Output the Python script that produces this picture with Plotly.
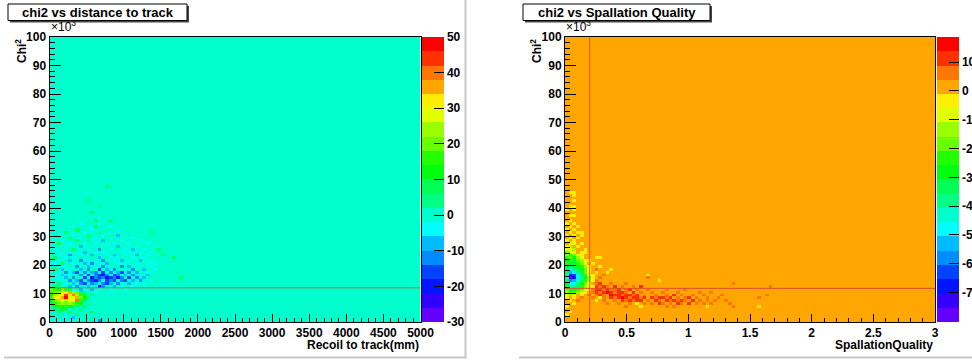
import colorsys
import numpy as np
import plotly.graph_objects as go

W, H = 972, 363

# ======================= DATA =======================
ytick_vals = [0, 10000, 20000, 30000, 40000, 50000, 60000, 70000, 80000, 90000, 100000]
ytick_text = ["0", "10", "20", "30", "40", "50", "60", "70", "80", "90", "100"]
y_range = [0, 100000]
n_bins = 100

# ---- left: chi2 vs distance to track ----
left_title = "chi2 vs distance to track"
left_xtitle = "Recoil to track(mm)"
left_xrange = [0, 5000]
left_zrange = [-30, 50]
left_ztick = [-30, -20, -10, 0, 10, 20, 30, 40, 50]
left_ztick_text = ["-30", "-20", "-10", "0", "10", "20", "30", "40", "50"]
left_xtick = [0, 500, 1000, 1500, 2000, 2500, 3000, 3500, 4000, 4500, 5000]
left_xtick_text = ["0", "500", "1000", "1500", "2000", "2500", "3000", "3500", "4000", "4500", "5000"]
left_cut_y = 12000
# colour-level codes -> bin content
left_levels = {"V": -28, "U": -24, "B": -20, "b": -16, "a": -12, "l": -8, "c": -4,
               "s": 4, "g": 8, "G": 12, "h": 16, "i": 20, "j": 24, "y": 28,
               "Y": 32, "o": 36, "O": 40, "r": 44, "R": 48}
# y-bin -> "xbin+code" entries (non-empty bins)
left_cells = {
    47: "15g",
    42: "10g",
    40: "13s",
    38: "11g",
    36: "13c",
    35: "12g 16g",
    34: "8c 13c",
    33: "6c 12g 16c",
    32: "3c 7g 11c 18c",
    31: "4g 9c 13s 27g",
    30: "2c 6c 10g 14c 18l",
    29: "5g 8c 12c 16c 20c 22c",
    28: "3c 7g 10s 14l 19c 24c",
    27: "2g 5c 9c 12c 17c 21c 26c",
    26: "4c 8l 11c 15c 18l 23c 28c",
    25: "1c 6g 10c 13a 16c 20c 22l 25c 29g",
    24: "3c 7c 9l 12c 14c 19c 21c 24c 27c",
    23: "2c 5a 8c 11l 15c 17l 20c 23l 26c 30g",
    22: "1g 4c 6c 9c 13l 16c 18c 22c 25c 33g",
    21: "2c 5l 8a 10c 12c 14a 17c 19l 21c 24l 27c",
    20: "1c 3g 6c 9l 11a 13c 15l 18c 20c 23c 26c 28c",
    19: "2c 4c 7a 10l 12c 14a 16c 19a 21l 24c 27c",
    18: "1g 3l 5c 8l 10a 13b 15l 17a 20c 22a 25l 28c",
    17: "2c 4a 6l 7b 9a 11l 12a 14b 16a 18l 19b 21a 23l 26c",
    16: "1c 3l 5c 8a 10b 12a 13b 14B 15a 17b 18a 20l 22a 24c 26l",
    15: "2c 4l 6a 9b 11B 12a 13b 14a 15B 16b 17a 18B 19a 21b 23a 25l 35g",
    14: "3c 5a 7l 8b 10a 11b 12B 13a 15b 16a 17b 19a 20b 22l 24a 27c",
    13: "2g 4c 6l 8a 9b 11a 12l 14a 15b 16l 18a 21l 23c 25c 30c",
    12: "1g 2s 3c 5l 7a 10l 13U 14a 17l 19c 22c",
    11: "0i 1h 2G 3j 4h 5g 6c 8l 9c 11l 13c 16c 20c",
    10: "0h 1i 2j 3y 4Y 5o 6j 7i 8g 9s 12c",
    9: "0G 1j 2Y 3y 4r 5Y 6O 7j 8h 9g 11s",
    8: "0h 1y 2Y 3o 4R 5y 6Y 7o 8i 9G 10s",
    7: "0G 1i 2j 3y 4j 5Y 6y 7O 8h 9g",
    6: "0g 1h 2i 3j 4i 5j 6i 7h 8G 10s",
    5: "0s 1G 2h 3G 4h 5G 6g 7s 9g",
    4: "1g 2s 3G 4g 6s 8s",
    3: "2s 5g 11g",
    2: "3s 7s",
    1: "4c 6l",
    0: "2c 5c 13a",
}

# ---- right: chi2 vs Spallation Quality ----
right_title = "chi2 vs Spallation Quality"
right_xtitle = "SpallationQuality"
right_xrange = [0, 3]
right_zrange = [-80.2, 18.7]
right_ztick = [10, 0, -10, -20, -30, -40, -50, -60, -70]
right_ztick_text = ["10", "0", "-10", "-20", "-30", "-40", "-50", "-60", "-70"]
right_xtick = [0, 0.5, 1, 1.5, 2, 2.5, 3]
right_xtick_text = ["0", "0.5", "1", "1.5", "2", "2.5", "3"]
right_cut_y = 11800
right_cut_x = 0.2
right_levels = {"V": -78, "U": -73, "B": -68, "b": -63, "z": -58, "l": -53, "c": -48,
                "q": -43, "s": -38, "g": -33, "G": -28, "h": -23, "i": -18, "j": -13,
                "y": -8, "Y": -3, "O": 6, "r": 11, "R": 16}
right_cells = {
    45: "1Y 2Y",
    44: "2Y",
    42: "2Y",
    40: "1Y 2y",
    39: "0Y 2Y",
    37: "1Y 2Y",
    35: "1y",
    34: "0Y 2Y",
    33: "1Y 3Y",
    32: "0y 2Y",
    31: "1Y 3Y 4Y",
    30: "0Y 2y 4Y",
    29: "1y 3Y",
    28: "0Y 2Y",
    27: "1y 2Y 4Y",
    26: "0Y 1j 3Y",
    25: "0y 1Y 2j 5Y",
    24: "0i 1y 2Y 4y 5Y",
    23: "0j 1h 2i 3y 4Y",
    22: "0h 1i 2G 3j 4y 8Y 9Y",
    21: "0G 1h 2g 3i 4j 5Y 6Y",
    20: "0h 1g 2G 3h 4i 5y 7Y",
    19: "0G 1s 2g 3G 4h 5j 6Y 9Y",
    18: "0g 1c 2s 3g 4G 5i 6y 8O 12Y",
    17: "0g 1l 2c 3s 4g 5i 6Y 8Y 11Y",
    16: "0s 1B 2b 3q 4g 5h 6y 7Y 10O 22Y",
    15: "0q 1V 2B 3c 4s 5G 6i 7Y 9O 22O",
    14: "0g 1z 2l 3q 4g 5h 6j 7Y 8O 25Y",
    13: "0G 1c 2c 3s 4G 5i 6y 8O 9r 12O 16O 45O",
    12: "0h 1q 2s 3g 4h 5j 6Y 7Y 8r 9O 10r 11O 13r 15O 18O 20r 55O",
    11: "0i 1g 2G 3h 4i 5y 6Y 7O 8r 9r 10O 11r 12O 13O 14r 16O 17r 19O 22O 27O 32O",
    10: "0j 1h 2i 3j 4y 5Y 7O 8r 9O 10r 11R 12r 13O 14r 15r 16O 18r 20O 23O 26O 30O 36O 39O",
    9: "0y 1j 2y 4Y 6O 8O 9r 10O 12R 13r 14r 15O 16r 17r 18O 19r 21O 24O 27O 29r 31O 34O 37O 42O 54O",
    8: "0Y 2Y 4O 7O 9Y 10O 12r 13O 14r 15R 16r 17O 18r 19r 20O 21r 23r 24O 25r 26r 27O 28r 30O 32O 33r 35O 38O 41O 52O",
    7: "1Y 3O 8Y 10O 13O 15r 16O 17r 18O 19r 20r 22O 24r 25O 27r 28O 29r 30O 31r 32O 34r 36O 38O 40O 43O",
    6: "2Y 11O 14O 17O 19Y 21O 23O 25r 26O 28O 30r 31O 33r 35O 37O 39O 44O",
    5: "0Y 16O 20Y 27O 29O 38Y 45O 52Y",
    3: "1Y",
    2: "0Y",
}

# ======================= STYLE / BUILD =======================
FONT = "Liberation Sans, Arial, sans-serif"
bold12 = dict(family=FONT, size=12, color="black", weight="bold")


def grid(cells, levels, n=n_bins):
    z = np.zeros((n, n))
    for iy, row in cells.items():
        for tok in row.split():
            z[iy, int(tok[:-1])] = levels[tok[-1]]
    return z


def centers(rng, n=n_bins):
    w = (rng[1] - rng[0]) / n
    return [rng[0] + (i + 0.5) * w for i in range(n)]


# ROOT "pretty" palette (50 colours) with 20 contour levels
pal = []
for i in range(50):
    hue = 280 - (i + 1) * 280 / 50
    r, g, b = colorsys.hls_to_rgb(hue / 360.0, 0.5, 1.0)
    pal.append("rgb(%d,%d,%d)" % (round(r * 255), round(g * 255), round(b * 255)))
ncont = 20
bands = [pal[int((k + 0.99) * 50 / ncont)] for k in range(ncont)]
cscale = []
for k, c in enumerate(bands):
    cscale.append([k / ncont, c])
    cscale.append([(k + 1) / ncont, c])

px = lambda x: x / W
py = lambda y: 1 - y / H

ydom = [py(322), py(37)]
xdom_l = [px(49.5), px(420.5)]
xdom_r = [px(565), px(935)]


def cbar(x0, tickvals, ticktext):
    return dict(x=px(x0), xanchor="left", xpad=0, ypad=0,
                y=py(37), yanchor="top", len=(322 - 37) / H, lenmode="fraction",
                thickness=22, thicknessmode="pixels", outlinewidth=0,
                tickmode="array", tickvals=tickvals, ticktext=ticktext,
                ticks="inside", ticklen=10,
                tickcolor="black", tickwidth=1, tickfont=bold12)


fig = go.Figure()
fig.add_trace(go.Heatmap(
    x=centers(left_xrange), y=centers(y_range), z=grid(left_cells, left_levels),
    zmin=left_zrange[0], zmax=left_zrange[1], colorscale=cscale,
    colorbar=cbar(422, left_ztick, left_ztick_text), hoverinfo="skip",
    xaxis="x", yaxis="y"))
fig.add_trace(go.Scatter(
    x=left_xrange, y=[left_cut_y, left_cut_y], mode="lines",
    line=dict(color="rgb(160,110,80)", width=1), showlegend=False,
    hoverinfo="skip", xaxis="x", yaxis="y"))

fig.add_trace(go.Heatmap(
    x=centers(right_xrange), y=centers(y_range), z=grid(right_cells, right_levels),
    zmin=right_zrange[0], zmax=right_zrange[1], colorscale=cscale,
    colorbar=cbar(936.5, right_ztick, right_ztick_text), hoverinfo="skip",
    xaxis="x2", yaxis="y2"))
fig.add_trace(go.Scatter(
    x=right_xrange, y=[right_cut_y, right_cut_y], mode="lines",
    line=dict(color="rgb(225,80,40)", width=1), showlegend=False,
    hoverinfo="skip", xaxis="x2", yaxis="y2"))
fig.add_trace(go.Scatter(
    x=[right_cut_x, right_cut_x], y=y_range, mode="lines",
    line=dict(color="rgb(225,80,40)", width=1), showlegend=False,
    hoverinfo="skip", xaxis="x2", yaxis="y2"))


def xax(dom, rng, tv, tt, minor_dtick, anchor):
    return dict(domain=dom, range=rng, anchor=anchor, tickmode="array",
                tickvals=tv, ticktext=tt, ticks="inside", ticklen=8, tickwidth=1,
                tickcolor="black", tickfont=bold12, showgrid=False, zeroline=False,
                showline=True, mirror=True, linecolor="black", linewidth=1,
                automargin=False,
                minor=dict(ticks="inside", ticklen=4, dtick=minor_dtick, tick0=0,
                           tickcolor="black", showgrid=False))


def yax(anchor):
    return dict(domain=ydom, range=y_range, anchor=anchor, tickmode="array",
                tickvals=ytick_vals, ticktext=ytick_text, ticks="inside", ticklen=11,
                tickwidth=1, tickcolor="black", tickfont=bold12, showgrid=False,
                zeroline=False, showline=True, mirror=True, linecolor="black",
                linewidth=1, automargin=False,
                minor=dict(ticks="inside", ticklen=5, dtick=2000, tick0=0,
                           tickcolor="black", showgrid=False))


shapes = []
annotations = []
for (bx0, bx1, title) in [(8, 187, left_title), (523, 710, right_title)]:
    shapes.append(dict(type="rect", xref="paper", yref="paper",
                       x0=px(bx0 + 2), x1=px(bx1 + 2), y0=py(22.5), y1=py(6),
                       fillcolor="rgb(70,70,70)", line=dict(width=0), layer="above"))
    shapes.append(dict(type="rect", xref="paper", yref="paper",
                       x0=px(bx0), x1=px(bx1), y0=py(20.5), y1=py(4),
                       fillcolor="white", line=dict(color="black", width=1), layer="above"))
    annotations.append(dict(text=title, xref="paper", yref="paper",
                            x=px((bx0 + bx1) / 2), y=py(12.5), xanchor="center",
                            yanchor="middle", showarrow=False,
                            font=dict(family=FONT, size=13, color="black", weight="bold")))

# pad borders
shapes += [
    dict(type="line", xref="paper", yref="paper", x0=px(465.5), x1=px(465.5),
         y0=py(0), y1=py(358), line=dict(color="rgb(200,200,200)", width=2)),
    dict(type="line", xref="paper", yref="paper", x0=px(4), x1=px(466.5),
         y0=py(357.5), y1=py(357.5), line=dict(color="rgb(200,200,200)", width=2)),
    dict(type="line", xref="paper", yref="paper", x0=px(519), x1=px(972),
         y0=py(357.5), y1=py(357.5), line=dict(color="rgb(200,200,200)", width=2)),
]

for (ax_left, ax_right, xtitle, ychi_x) in [(49.5, 420.5, left_xtitle, 21),
                                             (565, 935, right_xtitle, 536)]:
    annotations.append(dict(text="\u00d710<sup>3</sup>", xref="paper", yref="paper",
                            x=px(ax_left - 1), y=py(36), xanchor="left", yanchor="bottom",
                            showarrow=False,
                            font=dict(family=FONT, size=12, color="black")))
    annotations.append(dict(text="Chi<sup>2</sup>", xref="paper", yref="paper",
                            x=px(ychi_x), y=py(37), xanchor="center", yanchor="top",
                            textangle=-90, showarrow=False, font=bold12))
    annotations.append(dict(text=xtitle, xref="paper", yref="paper",
                            x=px(ax_right), y=py(345), xanchor="right", yanchor="middle",
                            showarrow=False, font=bold12))

fig.update_layout(
    width=W, height=H, margin=dict(l=0, r=0, t=0, b=0, pad=0, autoexpand=False),
    paper_bgcolor="white", plot_bgcolor="white",
    font=dict(family=FONT, size=12, color="black"),
    showlegend=False,
    xaxis=xax(xdom_l, left_xrange, left_xtick, left_xtick_text, 100, "y"),
    yaxis=yax("x"),
    xaxis2=xax(xdom_r, right_xrange, right_xtick, right_xtick_text, 0.1, "y2"),
    yaxis2=yax("x2"),
    shapes=shapes, annotations=annotations,
)

fig.write_html("out.html",
               config={"displayModeBar": False},
               post_script="document.body.style.margin='0px';"
                           "document.body.style.overflow='hidden';")
